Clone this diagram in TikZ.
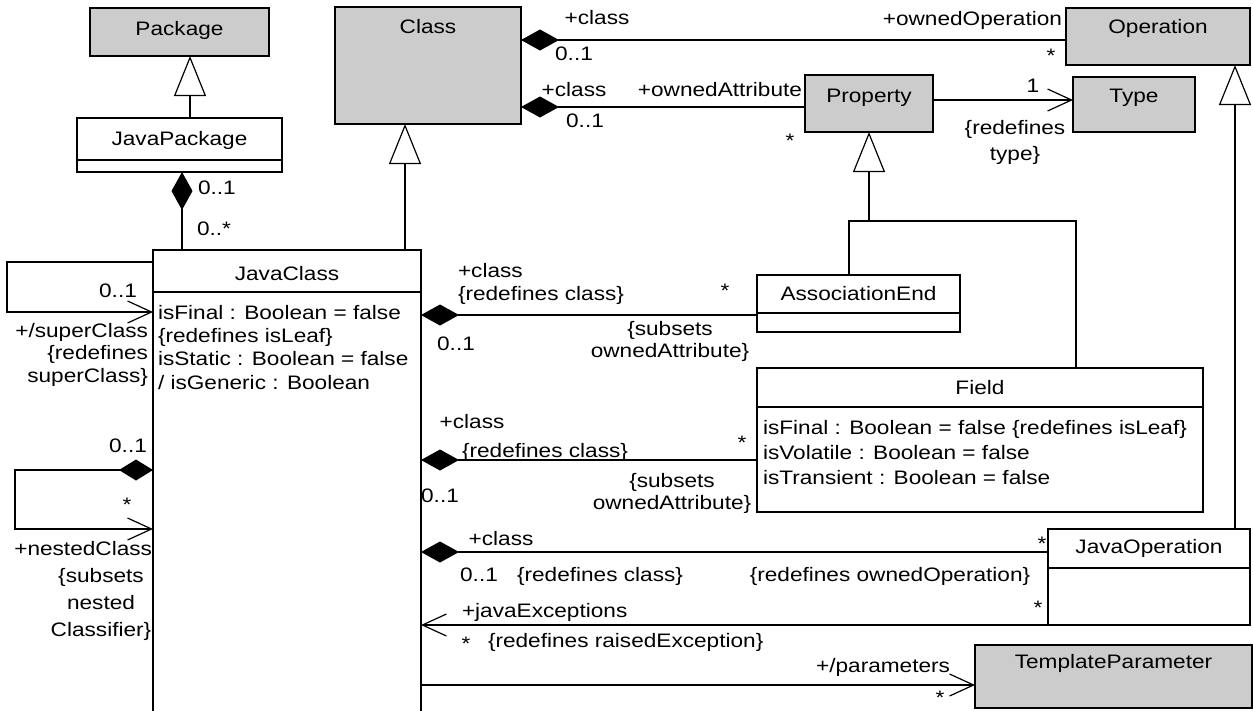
\documentclass[tikz,border=0pt]{standalone}
\usepackage{fontspec}
\setmainfont{Liberation Sans}[FakeStretch=1.16]
\usetikzlibrary{arrows.meta,calc}
\definecolor{boxgray}{RGB}{204,204,204}
\begin{document}
\begin{tikzpicture}[x=1pt,y=-1pt,
  every node/.style={font=\fontsize{19.5}{23.5}\selectfont, inner sep=0pt, outer sep=0pt},
  lab/.style={text height=14pt, text depth=4pt},
  box/.style={draw, line width=1.2pt, anchor=north west, fill=white},
  gbox/.style={box, fill=boxgray},
  line/.style={draw, line width=1.2pt},
  comp/.style={line, arrows={Diamond[length=38pt,width=21pt]-}},
  compnav/.style={line, arrows={Diamond[length=34pt,width=21pt]-Straight Barb[length=24pt,width=22pt]}},
  nav/.style={line, arrows={-Straight Barb[length=24pt,width=22pt]}},
  gen/.style={line, arrows={-Triangle[open,length=40pt,width=32pt]}}
]
\useasboundingbox (0,0) rectangle (1253,710);

% ---------- boxes ----------
\node[gbox, minimum width=179, minimum height=48] (pkg) at (90,8) {};
\node[box, minimum width=205, minimum height=54] (jpkg) at (77,118) {};
\node[gbox, minimum width=186, minimum height=117] (class) at (335,7) {};
\node[gbox, minimum width=184, minimum height=57] (op) at (1066,8) {};
\node[gbox, minimum width=128, minimum height=57] (prop) at (805,75) {};
\node[gbox, minimum width=122, minimum height=55] (type) at (1073,77) {};
\node[box, minimum width=268, minimum height=470] (jc) at (153,250) {};
\node[box, minimum width=203, minimum height=57] (ae) at (757,275) {};
\node[box, minimum width=446, minimum height=144] (field) at (757,368) {};
\node[box, minimum width=202, minimum height=96] (jop) at (1048,529) {};
\node[gbox, minimum width=277, minimum height=63] (tp) at (975,645) {};

% compartments
\draw[line] ($(jpkg.north west)+(0,42)$) -- ($(jpkg.north east)+(0,42)$);
\draw[line] ($(jc.north west)+(0,42)$) -- ($(jc.north east)+(0,42)$);
\draw[line] ($(ae.north west)+(0,38)$) -- ($(ae.north east)+(0,38)$);
\draw[line] ($(field.north west)+(0,39)$) -- ($(field.north east)+(0,39)$);
\draw[line] ($(jop.north west)+(0,39)$) -- ($(jop.north east)+(0,39)$);

% ---------- box titles ----------
\node[lab] (pkgT) at ($(pkg.north)+(0,22)$) {Package};
\node[lab] (jpkgT) at ($(jpkg.north)+(0,22)$) {JavaPackage};
\node[lab] (classT) at ($(class.north)+(0,21)$) {Class};
\node[lab] (opT) at ($(op.north)+(0,20)$) {Operation};
\node[lab] (propT) at ($(prop.north)+(0,22)$) {Property};
\node[lab] (typeT) at ($(type.north)+(0,20)$) {Type};
\node[lab] (jcT) at ($(jc.north)+(0,25)$) {JavaClass};
\node[lab] (aeT) at ($(ae.north)+(0,20)$) {AssociationEnd};
\node[lab] (fieldT) at ($(field.north)+(0,21)$) {Field};
\node[lab] (jopT) at ($(jop.north)+(0,19)$) {JavaOperation};
\node[lab] (tpT) at ($(tp.north)+(0,18)$) {TemplateParameter};

% attributes
\node[anchor=north west, align=left, font=\fontsize{19.5}{23.3}\selectfont] (jcA) at (158,305)
  {isFinal : Boolean = false\\\{redefines isLeaf\}\\isStatic : Boolean = false\\/ isGeneric : Boolean};
\node[anchor=north west, align=left, font=\fontsize{19.5}{25}\selectfont] (fieldA) at (763,420)
  {isFinal : Boolean = false \{redefines isLeaf\}\\isVolatile : Boolean = false\\isTransient : Boolean = false};

% ---------- generalizations ----------
\draw[gen] ($(jpkg.north west)+(113,0)$) -- ($(pkg.south west)+(100,0)$);
\draw[gen] ($(jc.north west)+(252,0)$) -- ($(class.south west)+(70,0)$);
\draw[gen] ($(ae.north west)+(92,0)$) |- ($(prop.south)+(0,89)$) -- (prop.south);
\draw[line] ($(field.north west)+(319,0)$) |- ($(prop.south)+(0,89)$);
\draw[gen] ($(jop.north west)+(187,0)$) -- ($(op.south west)+(169,0)$);

% ---------- associations ----------
\draw[comp] ($(jpkg.south west)+(105,0)$) -- ($(jc.north west)+(29,0)$);
\draw[comp] ($(class.north east)+(0,33)$) -- ($(op.north west)+(0,32)$);
\draw[comp] ($(class.north east)+(0,100)$) coordinate (c2s) -- (c2s -| prop.west);
\draw[nav] ($(prop.north east)+(0,25)$) coordinate (pts) -- (pts -| type.west);

\draw[nav] ($(jc.north west)+(0,12)$) -- ++(-146,0) |- ($(jc.north west)+(0,62)$);
\draw[compnav] ($(jc.north west)+(0,220)$) -| ($(jc.north west)+(-138,279)$) -- ($(jc.north west)+(0,279)$);

\coordinate (aeY) at ($(ae.north west)+(0,40)$);
\draw[comp] (jc.east |- aeY) -- (aeY);
\coordinate (fY) at ($(field.north west)+(0,92)$);
\draw[comp] (jc.east |- fY) -- (fY);
\coordinate (jopY) at ($(jop.north west)+(0,23)$);
\draw[comp] (jc.east |- jopY) -- (jopY);
\draw[nav] (jop.south west) -- (jop.south west -| jc.east);
\coordinate (tpY) at ($(tp.north west)+(0,40)$);
\draw[nav] (jc.east |- tpY) -- (tpY);

% ---------- labels ----------
\node[lab, anchor=west] (l1) at (198,189) {0..1};
\node[lab, anchor=west] (l2) at (197,230) {0..*};

\node[lab] (l3) at (597,19) {+class};
\node[lab] (l4) at (574,55) {0..1};
\node[lab, anchor=east] (l5) at (1062,20) {+ownedOperation};
\node[lab] (l6) at (1051,57) {*};

\node[lab] (l7) at (574,91) {+class};
\node[lab] (l8) at (585,122) {0..1};
\node[lab, anchor=east] (l9) at (802,91) {+ownedAttribute};
\node[lab] (l10) at (790,142) {*};

\node[lab] (l11) at (1033,87) {1};
\node[anchor=north, align=center, font=\fontsize{19.5}{26}\selectfont] (l12) at (1015,120) {\{redefines\\type\}};

\node[lab] (l13) at (118,292) {0..1};
\node[anchor=north east, align=right, font=\fontsize{19.5}{22.5}\selectfont] (l14) at (148,323)
  {+/superClass\\\{redefines\\superClass\}};

\node[lab] (l15) at (128,447) {0..1};
\node[lab] (l16) at (127,506) {*};
\node[lab, anchor=east] (l17a) at (152,550) {+nestedClass};
\node[anchor=north, align=center, font=\fontsize{19.5}{27}\selectfont] (l17) at (101,568)
  {\{subsets\\nested\\Classifier\}};

\node[anchor=north west, align=left, font=\fontsize{19.5}{23}\selectfont] (l18) at (458,263)
  {+class\\\{redefines class\}};
\node[lab] (l19) at (725,292) {*};
\node[anchor=north, align=center, font=\fontsize{19.5}{22.5}\selectfont] (l20) at (670,321)
  {\{subsets\\ownedAttribute\}};
\node[lab] (l21) at (456,345) {0..1};

\node[lab] (l22) at (472,423) {+class};
\node[lab] (l23) at (545,452) {\{redefines class\}};
\node[lab] (l24) at (742,444) {*};
\node[anchor=north, align=center, font=\fontsize{19.5}{22.5}\selectfont] (l25) at (672,473)
  {\{subsets\\ownedAttribute\}};
\node[lab] (l26) at (440,497) {0..1};

\node[lab] (l27) at (501,540) {+class};
\node[lab] (l28) at (479,576) {0..1};
\node[lab] (l29) at (600,576) {\{redefines class\}};
\node[lab] (l30) at (890,576) {\{redefines ownedOperation\}};
\node[lab] (l31) at (1042,545) {*};

\node[lab, anchor=west] (l32) at (462,612) {+javaExceptions};
\node[lab] (l33) at (466,645) {*};
\node[lab, anchor=west] (l34) at (488,642) {\{redefines raisedException\}};
\node[lab] (l35) at (1038,609) {*};

\node[lab, anchor=east] (l36) at (950,667) {+/parameters};
\node[lab] (l37) at (940,699) {*};
\end{tikzpicture}
\end{document}
